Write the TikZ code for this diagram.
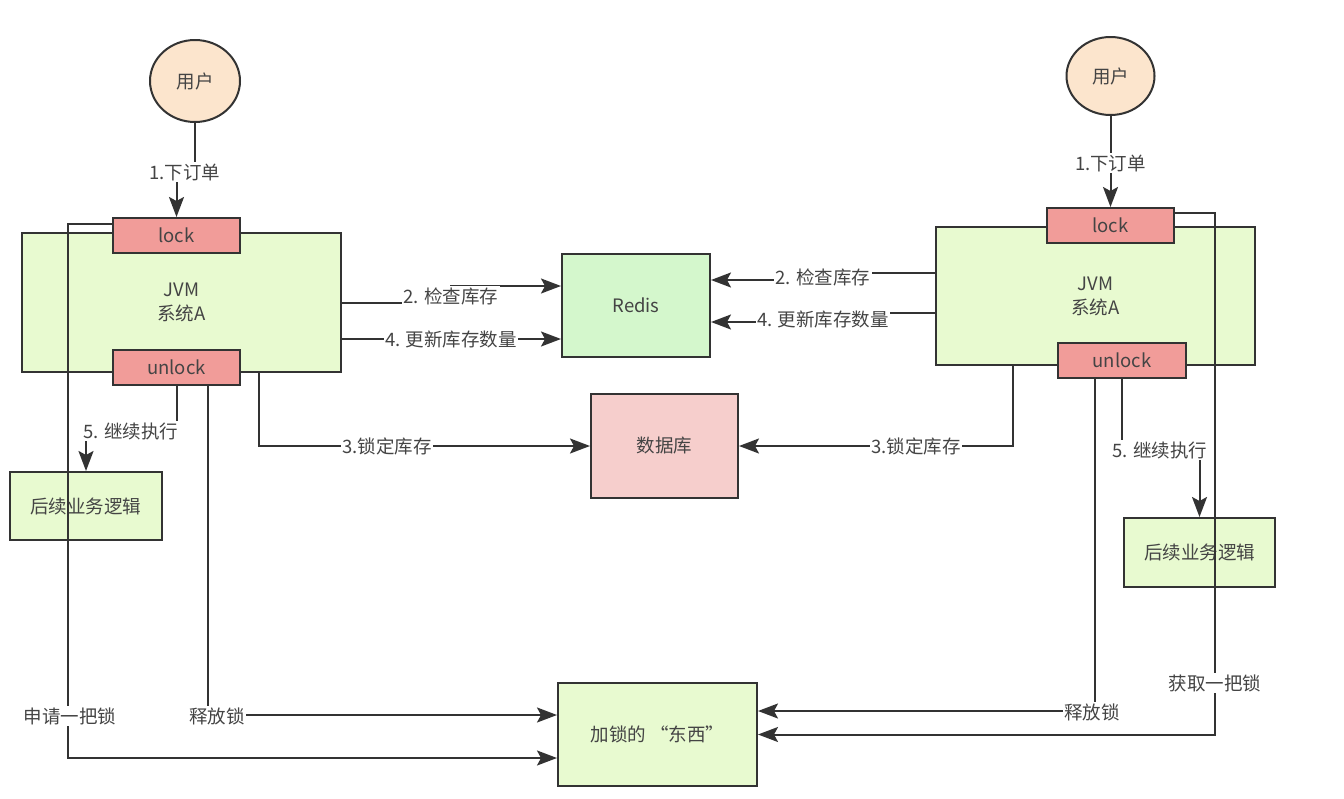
\documentclass[tikz,border=0pt]{standalone}
\usepackage{fontspec}
\setmainfont{Noto Sans CJK SC}
\usetikzlibrary{arrows.meta,shapes.geometric}
\definecolor{greenbox}{RGB}{232,250,208}
\definecolor{lockred}{RGB}{241,156,153}
\definecolor{redisgreen}{RGB}{212,247,204}
\definecolor{dbpink}{RGB}{246,206,204}
\definecolor{userfill}{RGB}{252,229,205}
\definecolor{linec}{RGB}{51,51,51}
\definecolor{textc}{RGB}{68,68,68}
\newcommand\dfont{\fontsize{18.5}{24}\selectfont}
\begin{document}
\begin{tikzpicture}[x=1pt,y=-1pt,
  every node/.append style={font=\dfont, text=textc},
  box/.style={draw=linec, line width=2pt, inner sep=0pt, align=center},
  lbl/.style={fill=white, inner sep=1.5pt},
  conn/.style={draw=linec, line width=2pt},
  arr/.style={conn, -{Stealth[length=20pt,width=15pt,inset=4pt]}}]
\useasboundingbox[fill=white] (0,0) rectangle (1344,798);

% users
\node[box, ellipse, fill=userfill, minimum width=90pt, minimum height=82pt] (userL) at (195,81) {用户};
\node[box, ellipse, fill=userfill, minimum width=88pt, minimum height=78pt] (userR) at (1110.5,76) {用户};

% JVM boxes
\node[box, fill=greenbox, minimum width=319pt, minimum height=139pt] (jvmL) at (181.5,302.5) {JVM\\系统A};
\node[box, fill=greenbox, minimum width=319pt, minimum height=138pt] (jvmR) at (1095.5,296) {JVM\\系统A};

% lock / unlock
\node[box, fill=lockred, minimum width=127pt, minimum height=35pt] (lockL) at (176.5,235.5) {lock};
\node[box, fill=lockred, minimum width=127pt, minimum height=35pt] (unlockL) at (176.5,367.5) {unlock};
\node[box, fill=lockred, minimum width=127pt, minimum height=35pt] (lockR) at (1110.5,225.5) {lock};
\node[box, fill=lockred, minimum width=128pt, minimum height=35pt] (unlockR) at (1122,360.5) {unlock};

% middle
\node[box, fill=redisgreen, minimum width=148pt, minimum height=103pt] (redis) at (636,305.5) {Redis};
\node[box, fill=dbpink, minimum width=147pt, minimum height=104pt] (db) at (664.5,446) {数据库};
\node[box, fill=greenbox, minimum width=199pt, minimum height=103pt] (target) at (657.5,734.5) {加锁的 “东西”};

% next logic
\node[box, fill=greenbox, minimum width=152pt, minimum height=68pt] (nextL) at (86,506) {后续业务逻辑};
\node[box, fill=greenbox, minimum width=151pt, minimum height=69pt] (nextR) at (1199.5,552.5) {后续业务逻辑};

% connectors left
\draw[arr] (userL.south) -- (195,172) -- (176.5,172) -- (lockL.north);
\draw[arr] (jvmL.east) -- (451,302.5) -- (451,286) -- ([yshift=19.5pt]redis.west);
\draw[arr] ([yshift=-36.5pt]jvmL.east) -- ([yshift=-33.5pt]redis.west);
\draw[arr] ([xshift=77.5pt]jvmL.south) -- (259,446) -- (db.west);
\draw[arr] (unlockL.south) -- (176.5,431) -- (86,431) -- (nextL.north);
\draw[arr] ([xshift=31.5pt]unlockL.south) -- (208,715) -- ([yshift=19.5pt]target.west);
\draw[arr] ([yshift=11.5pt]lockL.west) -- (68,224) -- (68,758) -- ([yshift=-23.5pt]target.west);

% connectors right
\draw[arr] (userR.south) -- (lockR.north);
\draw[arr] ([yshift=23pt]jvmR.west) -- (823,273) -- (823,280) -- ([yshift=25.5pt]redis.east);
\draw[arr] ([yshift=-17pt]jvmR.west) -- (823,313) -- (823,322) -- ([yshift=-16.5pt]redis.east);
\draw[arr] ([xshift=-82.5pt]jvmR.south) -- (1013,446) -- (db.east);
\draw[arr] (unlockR.south) -- (1122,450) -- (1199.5,450) -- (nextR.north);
\draw[arr] ([xshift=-27pt]unlockR.south) -- (1095,711) -- ([yshift=23.5pt]target.east);
\draw[arr] ([yshift=12.5pt]lockR.east) -- (1215,213) -- (1215,734.5) -- (target.east);

% labels
\node[lbl] (l1L) at (185,172) {1.下订单};
\node[lbl] (l1R) at (1110.5,163) {1.下订单};
\node[lbl] (l2L) at (451,296) {2. 检查库存};
\node[lbl] (l4L) at (451,339) {4. 更新库存数量};
\node[lbl] (l2R) at (823,277) {2. 检查库存};
\node[lbl] (l4R) at (823,319) {4. 更新库存数量};
\node[lbl] (l3L) at (387,446) {3.锁定库存};
\node[lbl] (l3R) at (916,446) {3.锁定库存};
\node[lbl] (l5L) at (131,431) {5. 继续执行};
\node[lbl] (l5R) at (1160,450) {5. 继续执行};
\node[lbl] (relL) at (217,716) {释放锁};
\node[lbl] (relR) at (1092,712) {释放锁};
\node[lbl] (acqL) at (70,716) {申请一把锁};
\node[lbl] (acqR) at (1215,683) {获取一把锁};
\end{tikzpicture}
\end{document}
